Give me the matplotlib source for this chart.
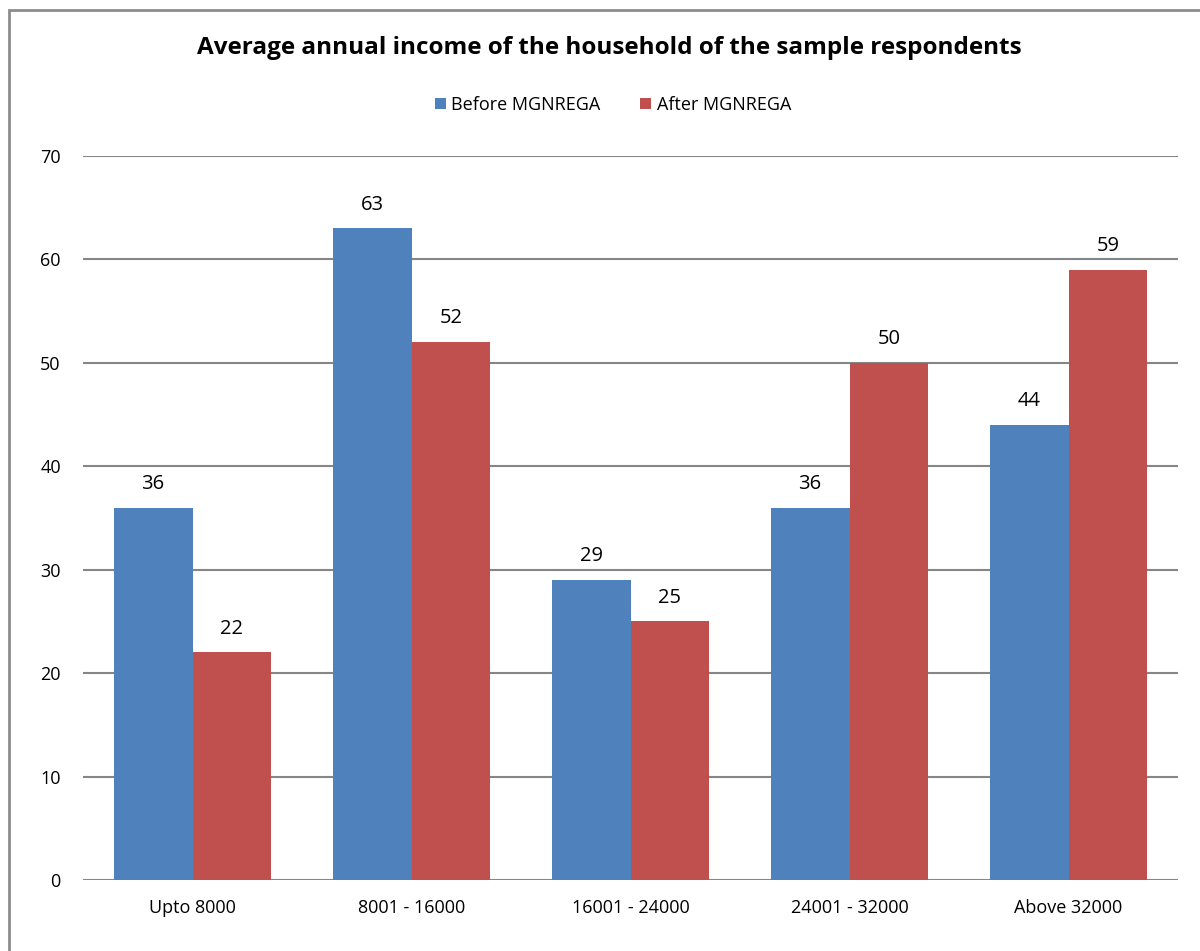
import numpy as np
import matplotlib.pyplot as plt
from matplotlib.patches import Rectangle

categories = ['Upto 8000', '8001 - 16000', '16001 - 24000', '24001 - 32000', 'Above 32000']
before = [36, 63, 29, 36, 44]
after = [22, 52, 25, 50, 59]
series_names = ['Before MGNREGA', 'After MGNREGA']
colors = ['#4f81bd', '#c0504d']

plt.rcParams['font.family'] = ['Open Sans', 'DejaVu Sans']

fig = plt.figure(figsize=(12, 9.51), dpi=100)
ax = fig.add_axes([83/1200, 1 - 880/951, (1178 - 83)/1200, (880 - 156)/951])

# outer chart border (right and bottom edges fall outside the picture)
fig.patches.append(Rectangle((9/1200, -0.1), 1.2, 1 - 10/951 + 0.1, transform=fig.transFigure,
                             fill=False, edgecolor='#8c8c8c', linewidth=2))

x = np.arange(len(categories))
w = 0.36
b1 = ax.bar(x - w/2, before, w, color=colors[0], label=series_names[0], zorder=3)
b2 = ax.bar(x + w/2, after, w, color=colors[1], label=series_names[1], zorder=3)
for bars in (b1, b2):
    ax.bar_label(bars, padding=10, fontsize=14.5)

ax.set_xlim(-0.5, len(categories) - 0.5)
ax.set_ylim(0, 70)
ax.set_yticks(range(0, 71, 10))
ax.yaxis.grid(True, color='#868686', linewidth=1.5, zorder=0)
ax.set_axisbelow(True)
for s in ax.spines.values():
    s.set_visible(False)
ax.tick_params(length=0, labelsize=13)
ax.tick_params(axis='y', pad=16)
ax.tick_params(axis='x', pad=14)
ax.set_xticks(x)
ax.set_xticklabels(categories)

fig.text(609/1200, 1 - 48/951, 'Average annual income of the household of the sample respondents',
         ha='center', va='center', fontsize=17.5, fontweight='bold')
fig.legend(loc='center', bbox_to_anchor=(613/1200, 1 - 105/951), ncol=2, frameon=False,
           fontsize=13, handlelength=0.6, handleheight=0.6, handletextpad=0.3, columnspacing=2.2)

fig.savefig('out.png', dpi=100)
